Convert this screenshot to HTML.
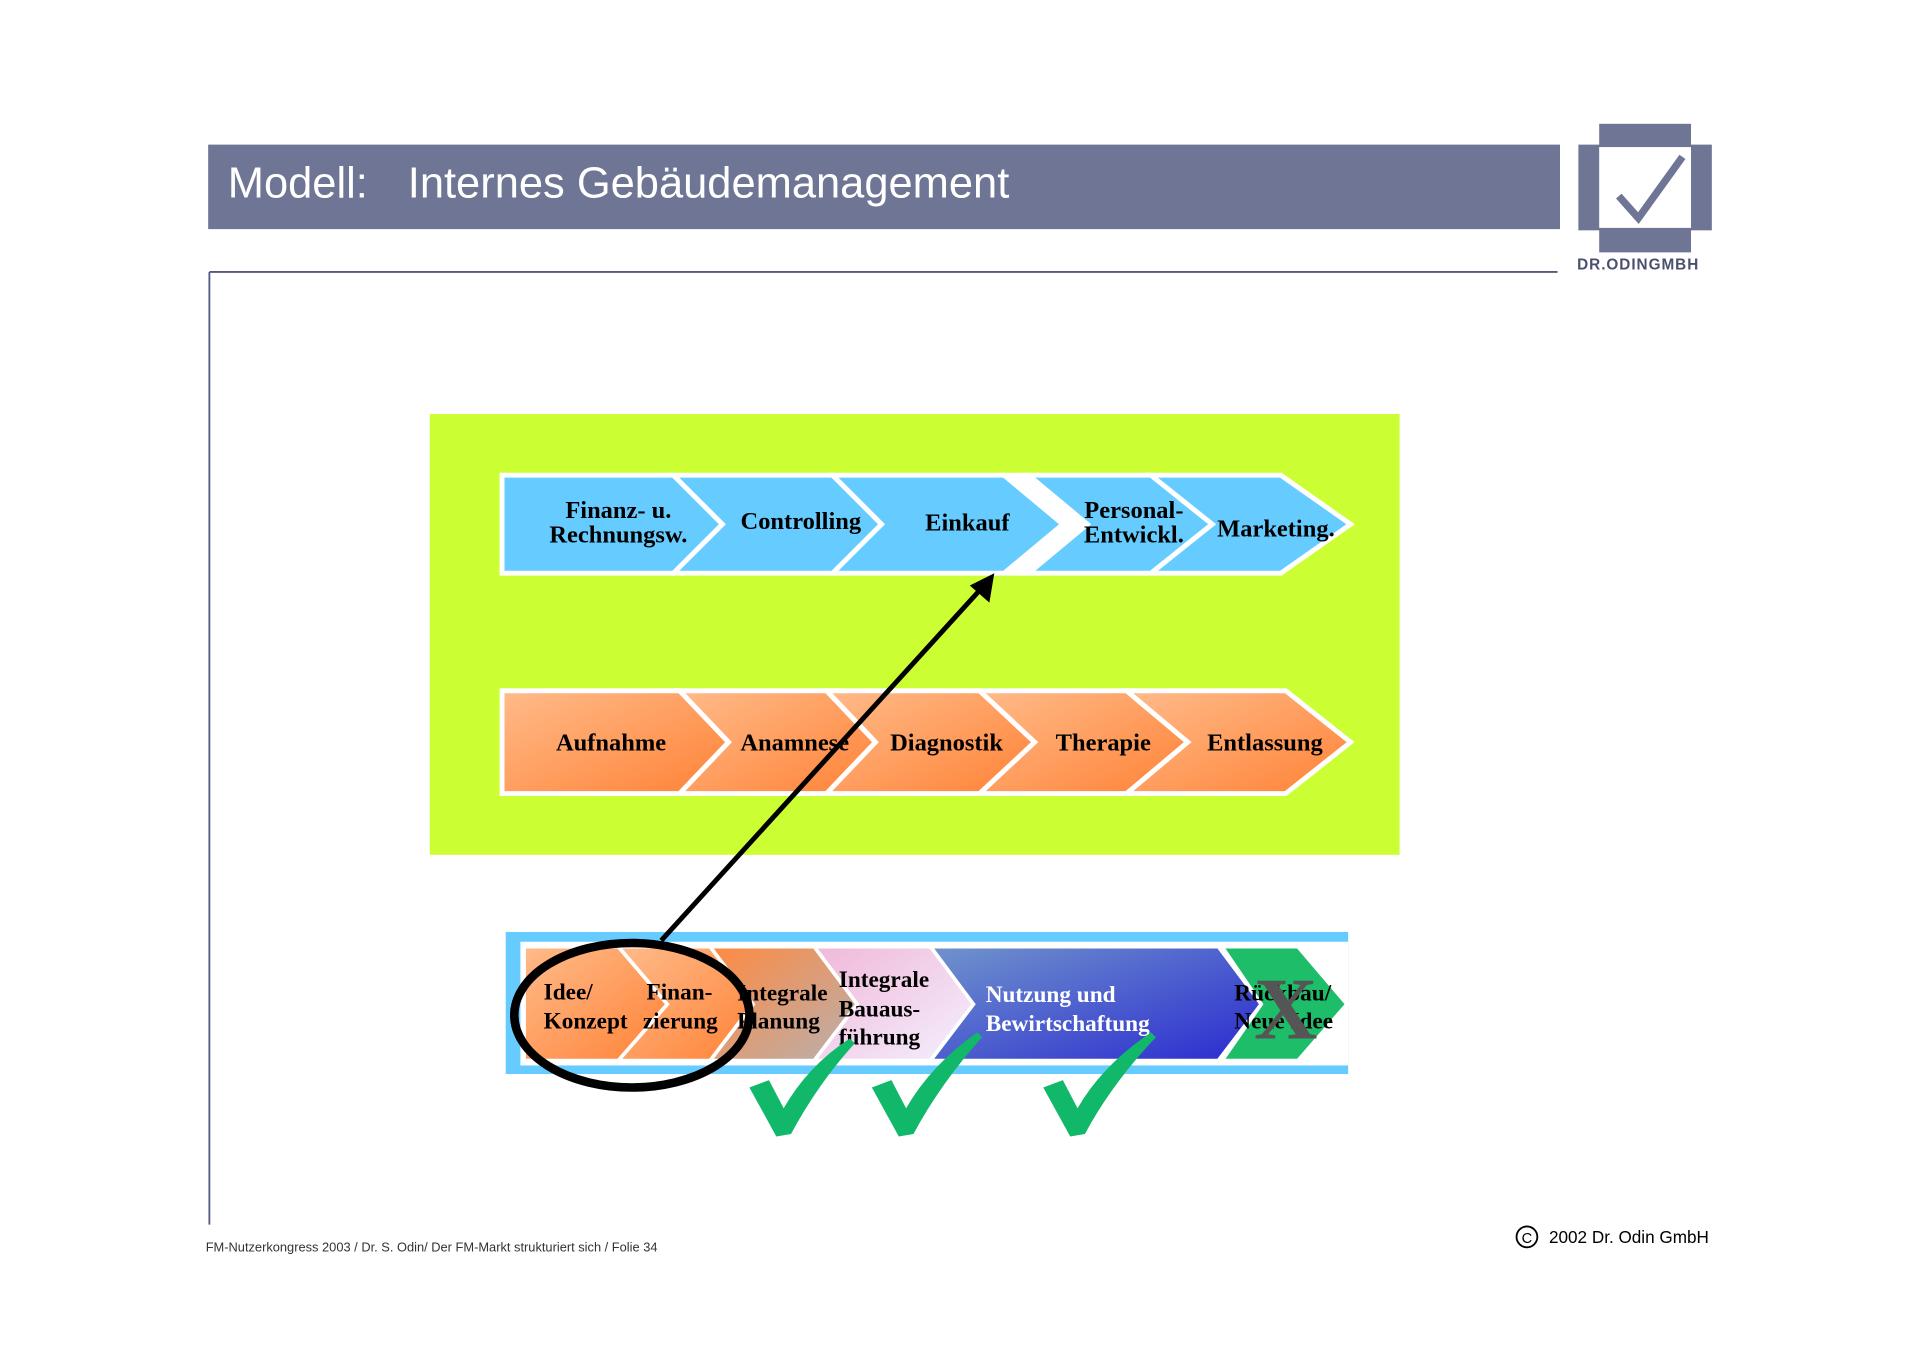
<!DOCTYPE html>
<html><head><meta charset="utf-8"><style>html,body{margin:0;padding:0;background:#fff}svg{display:block}</style></head>
<body>
<svg width="1920" height="1357" viewBox="0 0 1568 1108" xmlns="http://www.w3.org/2000/svg">
<defs>
<linearGradient id="or" x1="0" y1="0" x2="1" y2="1"><stop offset="0" stop-color="#ffbb8a"/><stop offset="1" stop-color="#ff8236"/></linearGradient>
<linearGradient id="og" x1="0" y1="0" x2="1" y2="1"><stop offset="0" stop-color="#ff8a40"/><stop offset="1" stop-color="#b8b0b0"/></linearGradient>
<linearGradient id="pk" x1="0" y1="0" x2="1" y2="1"><stop offset="0" stop-color="#f0b8d8"/><stop offset="1" stop-color="#f4f0ff"/></linearGradient>
<linearGradient id="bl" x1="0" y1="0" x2="1" y2="1"><stop offset="0" stop-color="#7094cc"/><stop offset="1" stop-color="#2a2ad0"/></linearGradient>
</defs>
<rect x="170" y="118" width="1104" height="69" fill="#6f7594"/>
<text x="186" y="161" font-family="Liberation Sans, sans-serif" font-size="35.5" fill="#fff">Modell:</text>
<text x="333" y="161" font-family="Liberation Sans, sans-serif" font-size="35.5" fill="#fff">Internes Gebäudemanagement</text>
<rect x="1289" y="118" width="109" height="70" fill="#6f7594"/>
<rect x="1306" y="101" width="75" height="105" fill="#6f7594"/>
<rect x="1306" y="120" width="75" height="66" fill="#fff"/>
<path d="M1322 160 L1338 178 L1374 128" fill="none" stroke="#6f7594" stroke-width="6"/>
<text x="1288" y="220" font-family="Liberation Sans, sans-serif" font-size="12.5" font-weight="bold" letter-spacing="0.8" fill="#4a4f6e">DR.ODINGMBH</text>
<line x1="171" y1="222" x2="1272" y2="222" stroke="#555a80" stroke-width="1.5"/>
<line x1="171" y1="222" x2="171" y2="1000" stroke="#555a80" stroke-width="1.5"/>
<rect x="351" y="338" width="792" height="360" fill="#ccff33"/>
<polygon points="818,386 842,386 892,428 842,470 818,470 866,428" fill="#fff"/>
<g stroke="#fff" stroke-width="4" fill="#66ccff">
<polygon points="410,388 550,388 590,428 550,468 410,468"/>
<polygon points="550,388 680,388 720,428 680,468 550,468 590,428"/>
<polygon points="680,388 820,388 868,428 820,468 680,468 720,428"/>
<polygon points="840,388 940,388 990,428 940,468 840,468 888,428"/>
<polygon points="940,388 1046,388 1103,428 1046,468 940,468 990,428"/>
</g>
<g fill="url(#or)" stroke="#fff" stroke-width="4">
<polygon points="410,564 555,564 595,606 555,648 410,648"/>
<polygon points="555,564 675,564 715,606 675,648 555,648 595,606"/>
<polygon points="675,564 800,564 845,606 800,648 675,648 715,606"/>
<polygon points="800,564 920,564 970,606 920,648 800,648 845,606"/>
<polygon points="920,564 1050,564 1103,606 1050,648 920,648 970,606"/>
</g>
<g font-family="Liberation Serif, serif" font-weight="bold" font-size="20" fill="#000" text-anchor="middle">
<text x="505" y="423">Finanz- u.</text><text x="505" y="443">Rechnungsw.</text>
<text x="654" y="432">Controlling</text>
<text x="790" y="433">Einkauf</text>
<text x="926" y="423">Personal-</text><text x="926" y="443">Entwickl.</text>
<text x="1042" y="438">Marketing.</text>
<text x="499" y="613">Aufnahme</text><text x="649" y="613">Anamnese</text><text x="773" y="613">Diagnostik</text><text x="901" y="613">Therapie</text><text x="1033" y="613">Entlassung</text>
</g>
<rect x="413" y="761" width="688" height="116" fill="#66ccff"/>
<rect x="425" y="769" width="676" height="101" fill="#fff"/>
<g stroke="#fff" stroke-width="3">
<polygon fill="url(#or)" points="428,773 505,773 545,820 505,866 428,866"/>
<polygon fill="url(#or)" points="505,773 580,773 615,820 580,866 505,866 545,820"/>
<polygon fill="url(#og)" points="580,773 665,773 700,820 665,866 580,866 615,820"/>
<polygon fill="url(#pk)" points="665,773 760,773 795,820 760,866 665,866 700,820"/>
<polygon fill="url(#bl)" points="760,773 995,773 1030,820 995,866 760,866 795,820"/>
<polygon fill="#1dbd6a" points="998,773 1060,773 1100,820 1060,866 998,866 1030,820"/>
</g>
<g font-family="Liberation Serif, serif" font-weight="bold" font-size="19" fill="#000">
<text x="444" y="816">Idee/</text><text x="444" y="840">Konzept</text>
<text x="528" y="816">Finan-</text><text x="525" y="840">zierung</text>
<text x="602" y="817">Integrale</text><text x="602" y="840">Planung</text>
<text x="685" y="806">Integrale</text><text x="685" y="830">Bauaus-</text><text x="685" y="853">führung</text>
<text x="805" y="818" fill="#fff">Nutzung und</text><text x="805" y="842" fill="#fff">Bewirtschaftung</text>
<text x="1008" y="817">Rückbau/</text><text x="1008" y="840">Neue Idee</text>
</g>
<text x="1050" y="848" font-family="Liberation Serif, serif" font-weight="bold" font-size="72" fill="#555" text-anchor="middle">X</text>
<ellipse cx="516" cy="829" rx="96" ry="59" fill="none" stroke="#000" stroke-width="7"/>
<line x1="540" y1="768" x2="800" y2="482" stroke="#000" stroke-width="4"/>
<polygon points="812,468 808,492 792,478" fill="#000"/>
<g fill="#12b86a">
<path d="M612 888 L628 882 L640 905 Q660 870 694 848 L698 852 Q668 885 646 926 L634 928 Z"/>
<path d="M712 888 L728 882 L740 905 Q760 870 798 843 L802 847 Q768 885 746 926 L734 928 Z"/>
<path d="M852 888 L868 882 L880 905 Q900 870 940 843 L944 847 Q908 885 886 926 L874 928 Z"/>
</g>
<text x="168" y="1022" font-family="Liberation Sans, sans-serif" font-size="10.5" fill="#333">FM-Nutzerkongress 2003 / Dr. S. Odin/ Der FM-Markt strukturiert sich / Folie 34</text>
<circle cx="1247" cy="1010" r="8.5" fill="none" stroke="#000" stroke-width="1.5"/>
<text x="1247" y="1015" font-family="Liberation Sans, sans-serif" font-size="12" text-anchor="middle" fill="#000">C</text>
<text x="1265" y="1015" font-family="Liberation Sans, sans-serif" font-size="14" fill="#000">2002 Dr. Odin GmbH</text>
</svg>
</body></html>
